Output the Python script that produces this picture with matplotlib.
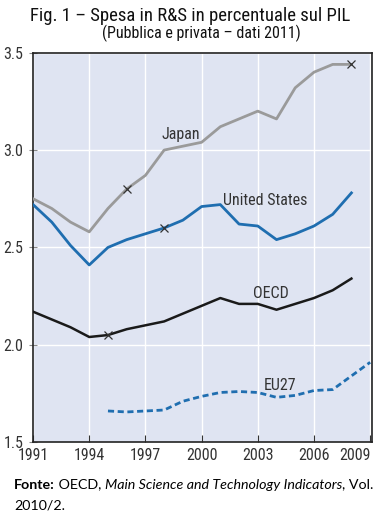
import matplotlib.pyplot as plt

# Data (R&D spending as % of GDP)
years = list(range(1991, 2009))
japan = [2.75, 2.70, 2.63, 2.58, 2.70, 2.80, 2.87, 3.00, 3.02, 3.04,
         3.12, 3.16, 3.20, 3.16, 3.32, 3.40, 3.44, 3.44]
usa = [2.72, 2.63, 2.51, 2.41, 2.50, 2.54, 2.57, 2.60, 2.64, 2.71,
       2.72, 2.62, 2.61, 2.54, 2.57, 2.61, 2.67, 2.78]
oecd = [2.17, 2.13, 2.09, 2.04, 2.05, 2.08, 2.10, 2.12, 2.16, 2.20,
        2.24, 2.21, 2.21, 2.18, 2.21, 2.24, 2.28, 2.34]
eu_years = list(range(1995, 2010))
eu27 = [1.66, 1.655, 1.66, 1.665, 1.71, 1.735, 1.755, 1.76, 1.755,
        1.73, 1.74, 1.765, 1.77, 1.84, 1.91]

# years where an "x" marker is drawn on the line
marks = {'japan': [1996, 2008], 'usa': [1998], 'oecd': [1995]}

xticks = [1991, 1994, 1997, 2000, 2003, 2006, 2009]
yticks = [1.5, 2.0, 2.5, 3.0, 3.5]

narrow = ['Roboto Condensed', 'Liberation Sans Narrow', 'Roboto', 'DejaVu Sans']
plt.rcParams['font.family'] = narrow

fig = plt.figure(figsize=(3.8, 5.22), dpi=100)
ax = fig.add_axes([0.087, 0.153, 0.892, 0.746])
ax.set_facecolor('#dfe4f2')

blue = '#1f6eb0'
grey = '#9a9a9a'

ax.plot(years, japan, color=grey, lw=2.0, zorder=3)
ax.plot(years, usa, color=blue, lw=2.0, zorder=3)
ax.plot(years, oecd, color='#1a1a1a', lw=1.8, zorder=3)
ax.plot(eu_years, eu27, color=blue, lw=2.0, ls=(0, (2.2, 1.3)), zorder=3)

for key, series in [('japan', japan), ('usa', usa), ('oecd', oecd)]:
    for yr in marks[key]:
        ax.plot(yr, series[years.index(yr)], marker='x', color='#333333',
                ms=6, mew=0.9, zorder=4)

lab = dict(color='#333333', fontsize=11.5, ha='center', va='center')
ax.text(1998.9, 3.08, 'Japan', **lab)
ax.text(2003.4, 2.74, 'United States', **lab)
ax.text(2003.7, 2.265, 'OECD', **lab)
ax.text(2004.2, 1.79, 'EU27', **lab)

ax.set_xlim(1991, 2009.1)
ax.set_ylim(1.5, 3.5)
ax.set_xticks(xticks)
ax.set_yticks(yticks)
ax.set_xticklabels([str(t) for t in xticks], fontsize=11.5, color='#333333')
ax.set_yticklabels([f'{t:.1f}' for t in yticks], fontsize=11.5, color='#333333')
ax.get_xticklabels()[-1].set_horizontalalignment('right')
ax.get_xticklabels()[-1].set_x(2009.1)
ax.grid(color='white', lw=1.0)
ax.set_axisbelow(True)
ax.tick_params(axis='x', direction='in', length=5, color='#333333', pad=4)
ax.tick_params(axis='y', direction='inout', length=6, color='#888888', pad=4)
for s in ax.spines.values():
    s.set_color('#222222')
    s.set_linewidth(1.2)

fig.text(0.5, 0.960, 'Fig. 1 \u2013 Spesa in R&S in percentuale sul PIL',
         ha='center', fontsize=13.5, color='#111111')
fig.text(0.53, 0.927, '(Pubblica e privata \u2013 dati 2011)',
         ha='center', fontsize=11.5, color='#111111')

foot = ['Lato', 'DejaVu Sans']
fs = 10.3
t1 = fig.text(0.037, 0.064, 'Fonte:', fontsize=fs, fontweight='bold', family=foot)
fig.canvas.draw()
r = fig.canvas.get_renderer()
x = t1.get_window_extent(r).x1 / fig.bbox.width
t2 = fig.text(x, 0.064, ' OECD, ', fontsize=fs, family=foot)
fig.canvas.draw()
x = t2.get_window_extent(r).x1 / fig.bbox.width
t3 = fig.text(x, 0.064, 'Main Science and Technology Indicators', fontsize=fs,
              style='italic', family=foot)
fig.canvas.draw()
x = t3.get_window_extent(r).x1 / fig.bbox.width
fig.text(x, 0.064, ', Vol.', fontsize=fs, family=foot)
fig.text(0.037, 0.024, '2010/2.', fontsize=fs, family=foot)

fig.savefig('out.png', dpi=100)
